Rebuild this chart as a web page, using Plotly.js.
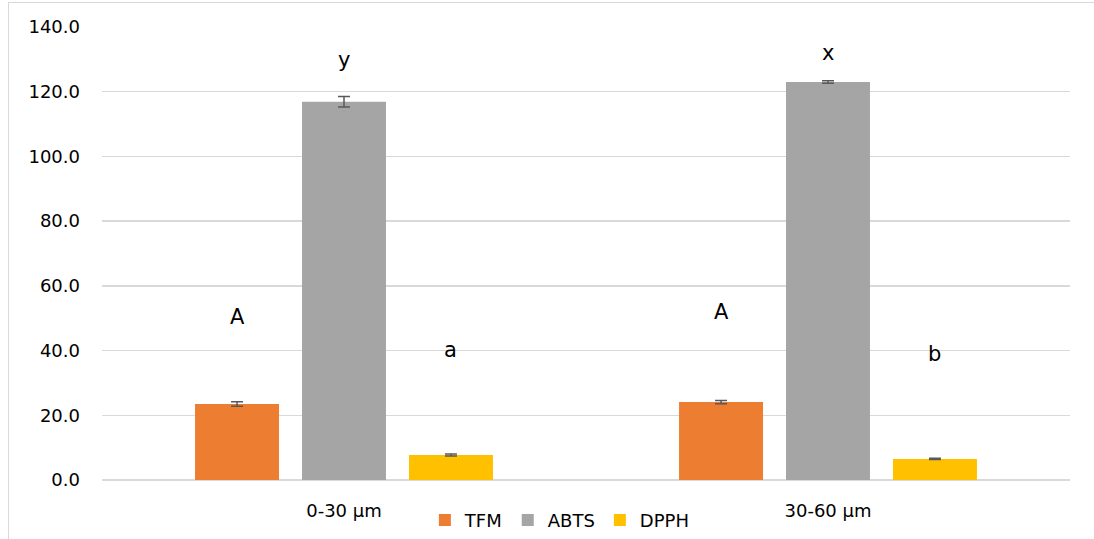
<!DOCTYPE html>
<html>
<head>
<meta charset="utf-8">
<script src="https://cdn.plot.ly/plotly-3.0.1.min.js"></script>
<style>
html,body{margin:0;padding:0;background:#fff;}
#wrap{position:relative;width:1094px;height:539px;}
#frame{position:absolute;left:8px;top:2px;width:1086px;height:537px;border-left:1px solid #d9d9d9;border-top:1px solid #d9d9d9;box-sizing:border-box;pointer-events:none;}
#chart{position:absolute;left:0;top:0;width:1094px;height:539px;}
</style>
</head>
<body>
<div id="wrap"><div id="chart"></div><div id="frame"></div></div>
<script>
// ---- data ----
const categories = ["0-30 µm", "30-60 µm"];
const seriesNames = ["TFM", "ABTS", "DPPH"];
const tfm = [23.5, 24.1];
const abts = [116.9, 123.0];
const dpph = [7.7, 6.5];
const tfmErr = [0.7, 0.5];
const abtsErr = [1.6, 0.4];
const dpphErr = [0.3, 0.2];
const tfmLetters = ["A", "A"];
const abtsLetters = ["y", "x"];
const dpphLetters = ["a", "b"];
const tfmLetterY = [50.5, 52.0];
const abtsLetterY = [129.8, 132.0];
const dpphLetterY = [40.2, 39.0];
const colors = ["#ed7d31", "#a5a5a5", "#ffc000"];

const values = [tfm, abts, dpph];
const errs = [tfmErr, abtsErr, dpphErr];
const letters = [tfmLetters, abtsLetters, dpphLetters];
const letterY = [tfmLetterY, abtsLetterY, dpphLetterY];

const W = 1094, H = 539;
const margin = {l: 102, r: 24, t: 27, b: 59, pad: 0, autoexpand: false};
const bargap = 0.337, bargroupgap = 0.215;
const plotW = W - margin.l - margin.r;
const slotW = plotW / categories.length * (1 - bargap) / seriesNames.length;

const font = "'DejaVu Sans', sans-serif";

const traces = seriesNames.map((name, i) => ({
  type: "bar",
  name: name,
  x: categories,
  y: values[i],
  marker: {color: colors[i], line: {width: 0}},
  error_y: {type: "data", array: errs[i], visible: true, color: "#595959", thickness: 1.5, width: 6},
  hoverinfo: "skip"
}));

const annotations = [];
seriesNames.forEach((name, i) => {
  categories.forEach((c, j) => {
    annotations.push({
      x: c, y: letterY[i][j], xref: "x", yref: "y",
      xshift: (i - 1) * slotW,
      text: letters[i][j], showarrow: false,
      font: {family: font, size: 21, color: "#000"}
    });
  });
});

const layout = {
  width: W, height: H,
  margin: margin,
  paper_bgcolor: "#fff", plot_bgcolor: "#fff",
  barmode: "group", bargap: bargap, bargroupgap: bargroupgap,
  showlegend: true,
  legend: {orientation: "h", x: 0.473, xanchor: "center", y: -0.089, yanchor: "middle",
           font: {family: font, size: 18, color: "#000"}, itemwidth: 30, tracegroupgap: 0},
  xaxis: {type: "category", showgrid: false, zeroline: false, showline: false, ticks: "",
          tickfont: {family: font, size: 18, color: "#000"}, ticklabelstandoff: 18, fixedrange: true},
  yaxis: {range: [0, 140], tickvals: [0, 20, 40, 60, 80, 100, 120, 140],
          ticktext: ["0.0", "20.0", "40.0", "60.0", "80.0", "100.0", "120.0", "140.0"],
          showgrid: true, gridcolor: "#d9d9d9", gridwidth: 1.5, zeroline: true, zerolinecolor: "#d9d9d9", zerolinewidth: 1.5,
          showline: false, ticks: "", tickfont: {family: font, size: 18, color: "#000"}, ticklabelstandoff: 21, fixedrange: true},
  annotations: annotations,
  font: {family: font}
};

Plotly.newPlot("chart", traces, layout, {displayModeBar: false, staticPlot: true});
</script>
</body>
</html>
